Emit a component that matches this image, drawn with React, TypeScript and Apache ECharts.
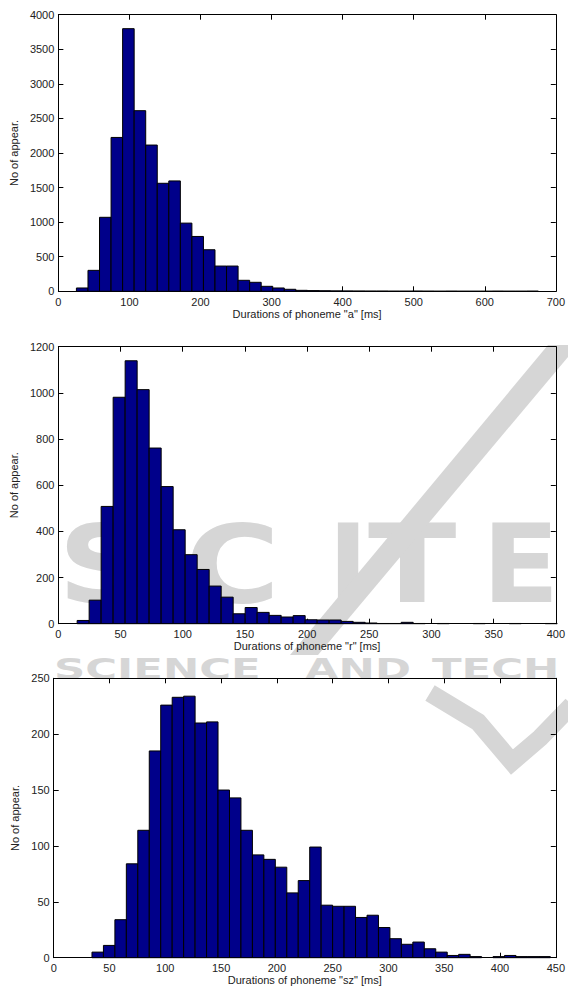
import React, { useEffect, useRef } from "react";
import * as echarts from "echarts";

// ---------- data ----------
// Phoneme "a": 40 histogram bins
const aBinStart = 25.4;
const aBinWidth = 16.25;
const aCounts = [48, 303, 1070, 2225, 3798, 2612, 2115, 1562, 1596, 986, 793, 601, 365, 365, 159, 130, 72, 48, 29, 14, 10, 8, 6, 5, 4, 3, 3, 2, 2, 3, 2, 1, 2, 1, 1, 1, 2, 1, 1, 2];

// Phoneme "r"
const rBinStart = 15.1;
const rBinWidth = 9.65;
const rCounts = [14, 102, 508, 981, 1139, 1014, 761, 594, 407, 299, 235, 163, 115, 43, 70, 49, 36, 29, 35, 17, 16, 16, 10, 6, 3, 1, 1, 6, 1, 0, 1, 0, 0, 1, 0, 0, 1, 0, 0, 1];

// Phoneme "sz"
const szBinStart = 34.3;
const szBinWidth = 10.27;
const szCounts = [5, 11, 34, 84, 114, 185, 226, 233, 234, 210, 211, 150, 143, 114, 92, 88, 81, 58, 69, 99, 47, 46, 46, 36, 38, 27, 17, 12, 14, 8, 5, 2, 3, 1, 0, 1, 2, 1, 1, 1];

const xTitles = ['Durations of phoneme "a" [ms]', 'Durations of phoneme "r" [ms]', 'Durations of phoneme "sz" [ms]'];
const yTitle = "No of appear.";
const xMax = [700, 400, 450];
const xInterval = [100, 50, 50];
const yMax = [4000, 1200, 250];
const yInterval = [500, 200, 50];

const FONT = '"Liberation Sans", Arial, sans-serif';
const BAR = "#00008a";
const WM = "#d6d6d6";

function bins(start: number, width: number, counts: number[]) {
  return counts.map((c, i) => [start + i * width, start + (i + 1) * width, c]);
}

export default function App() {
  const ref = useRef<HTMLDivElement>(null);
  useEffect(() => {
    document.body.style.margin = "0";
    if (!ref.current) return;
    const chart = echarts.init(ref.current, null, { renderer: "svg" });
    const grids = [
      { left: 58, top: 14.7, width: 499.5, height: 276.6 },
      { left: 58, top: 346.7, width: 499.5, height: 277 },
      { left: 53.7, top: 678.3, width: 503.8, height: 279.4 },
    ];
    const datasets = [
      bins(aBinStart, aBinWidth, aCounts),
      bins(rBinStart, rBinWidth, rCounts),
      bins(szBinStart, szBinWidth, szCounts),
    ];
    const nameGapsY = [37, 37, 33];
    const lineStyle = { color: "#000", width: 1 };
    const fmt = (v: number) => String(v);
    const xAxis: any[] = [];
    const yAxis: any[] = [];
    const series: any[] = [];
    for (let g = 0; g < 3; g++) {
      xAxis.push({
        type: "value", gridIndex: g, min: 0, max: xMax[g], interval: xInterval[g], position: "bottom",
        axisLine: { show: true, onZero: false, lineStyle },
        axisTick: { show: true, inside: true, length: 5, lineStyle },
        splitLine: { show: false },
        axisLabel: { show: true, fontSize: 11, color: "#222", fontFamily: FONT, margin: 5, formatter: fmt },
        name: xTitles[g], nameLocation: "middle", nameGap: 17,
        nameTextStyle: { fontSize: 11, color: "#222", fontFamily: FONT },
      });
      xAxis.push({
        type: "value", gridIndex: g, min: 0, max: xMax[g], interval: xInterval[g], position: "top",
        axisLine: { show: true, onZero: false, lineStyle },
        axisTick: { show: true, inside: true, length: 5, lineStyle },
        splitLine: { show: false }, axisLabel: { show: false },
      });
      yAxis.push({
        type: "value", gridIndex: g, min: 0, max: yMax[g], interval: yInterval[g], position: "left",
        axisLine: { show: true, onZero: false, lineStyle },
        axisTick: { show: true, inside: true, length: 5, lineStyle },
        splitLine: { show: false },
        axisLabel: { show: true, fontSize: 11, color: "#222", fontFamily: FONT, margin: 4, formatter: fmt },
        name: yTitle, nameLocation: "middle", nameGap: nameGapsY[g], nameRotate: 90,
        nameTextStyle: { fontSize: 11, color: "#222", fontFamily: FONT },
      });
      yAxis.push({
        type: "value", gridIndex: g, min: 0, max: yMax[g], interval: yInterval[g], position: "right",
        axisLine: { show: true, onZero: false, lineStyle },
        axisTick: { show: true, inside: true, length: 5, lineStyle },
        splitLine: { show: false }, axisLabel: { show: false },
      });
      series.push({
        type: "custom",
        xAxisIndex: g * 2,
        yAxisIndex: g * 2,
        data: datasets[g],
        encode: { x: [0, 1], y: 2 },
        z: 3,
        renderItem: (params: any, api: any) => {
          const x0 = api.value(0);
          const x1 = api.value(1);
          const v = api.value(2);
          if (!v) return null;
          const p0 = api.coord([x0, v]);
          const p1 = api.coord([x1, 0]);
          return {
            type: "rect",
            shape: { x: p0[0], y: p0[1], width: p1[0] - p0[0], height: p1[1] - p0[1] },
            style: { fill: BAR, stroke: "#000", lineWidth: 1 },
          };
        },
      });
    }

    const wmLetter = (t: string, x: number, y: number, size: number, sx = 1) => ({
      type: "text", x, y, scaleX: sx, silent: true, z: -10,
      style: { text: t, fill: WM, font: `bold ${size}px "DejaVu Sans", sans-serif`, textVerticalAlign: "top" },
    });

    chart.setOption({
      animation: false,
      backgroundColor: "#fff",
      grid: grids,
      xAxis, yAxis, series,
      graphic: [
        wmLetter("S", 58, 510, 108, 1.15),
        wmLetter("C", 185, 510, 108, 1.2),
        wmLetter("I", 328, 510, 108, 1.0),
        wmLetter("T", 368, 510, 108, 1.2),
        wmLetter("E", 482, 510, 108, 1.05),
        wmLetter("SCIENCE", 54, 655, 28, 1.55),
        wmLetter("AND", 305, 655, 28, 1.55),
        wmLetter("TECH", 432, 655, 28, 1.55),
        {
          type: "polygon", silent: true, z: -10,
          shape: { points: [[548, 345], [578, 345], [318, 655], [290, 655]] },
          style: { fill: WM },
        },
        {
          type: "polyline", silent: true, z: -10,
          shape: { points: [[430, 693], [478, 722], [512, 762], [540, 738], [572, 705]] },
          style: { stroke: WM, lineWidth: 18, fill: "none" },
        },
      ],
    });
    return () => chart.dispose();
  }, []);
  return <div ref={ref} style={{ width: 568, height: 991 }} />;
}
